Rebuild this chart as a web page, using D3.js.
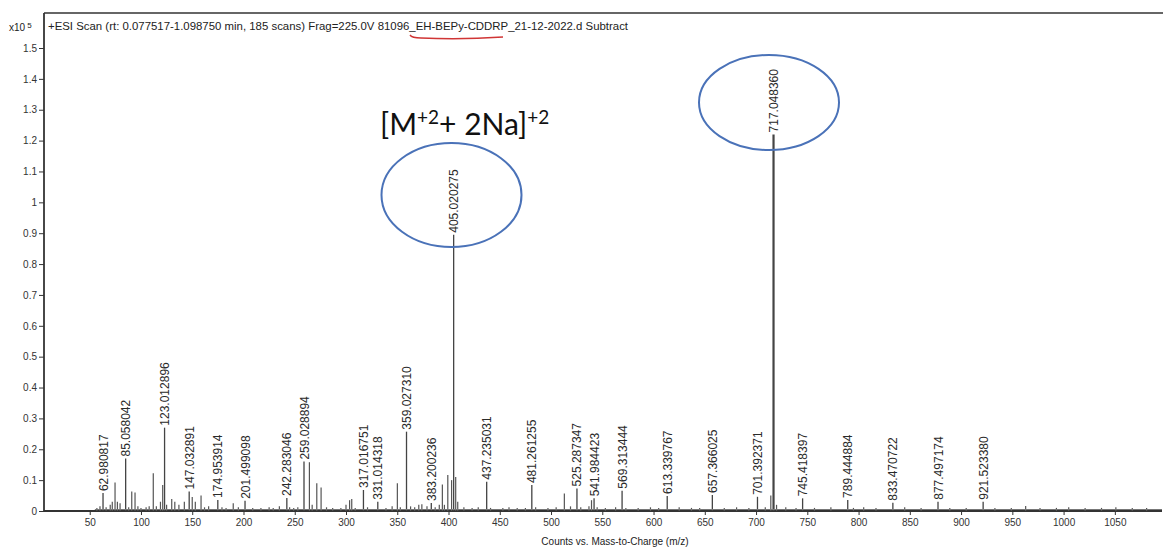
<!DOCTYPE html>
<html><head><meta charset="utf-8">
<script src="https://cdn.jsdelivr.net/npm/d3@7/dist/d3.min.js"></script>
<style>body{margin:0;background:#fff}svg{display:block}</style>
</head><body>
<svg id="c" width="1163" height="550"></svg>
<script>
// Labeled peaks (m/z) and intensities (x10^5 counts)
const labeledMz = [62.980817, 85.058042, 123.012896, 147.032891, 174.953914, 201.499098, 242.283046, 259.028894, 317.016751, 331.014318, 359.027310, 383.200236, 405.020275, 437.235031, 481.261255, 525.287347, 541.984423, 569.313444, 613.339767, 657.366025, 701.392371, 717.048360, 745.418397, 789.444884, 833.470722, 877.497174, 921.523380];
const labeledInt = [0.058, 0.17, 0.27, 0.063, 0.036, 0.033, 0.042, 0.16, 0.068, 0.03, 0.257, 0.026, 0.895, 0.095, 0.084, 0.073, 0.041, 0.066, 0.049, 0.052, 0.046, 1.22, 0.041, 0.036, 0.027, 0.03, 0.03];
// Unlabeled peaks
const otherMz = [57, 60, 66, 70, 72, 74.7, 77, 79.6, 88, 91, 94.2, 97, 100, 105, 108, 112, 115, 119, 121.2, 125, 130, 133, 137, 142.3, 150, 153, 158.6, 162, 166, 179, 183, 190, 195, 209, 217, 225, 229, 235, 245, 249, 253, 264.3, 267, 271.5, 275.7, 281, 287, 295, 300, 303.5, 305.6, 309, 321, 339, 345, 350.1, 353, 363, 367, 371, 374, 379, 387, 391, 394, 396, 399.3, 403, 407, 409, 415, 423, 429, 441, 453, 459, 467, 475, 485, 497, 505, 513, 519, 529, 537, 539.5, 545, 553, 563, 573, 585, 597, 605, 625, 637, 645, 669, 681, 693, 709, 714.4, 720, 729, 739, 757, 773, 795, 805, 817, 845, 861, 889, 905, 933, 949, 963, 977, 993, 1005, 1021, 1037, 1051, 1067, 1081];
const otherInt = [0.01, 0.015, 0.012, 0.02, 0.03, 0.092, 0.03, 0.025, 0.012, 0.063, 0.06, 0.015, 0.01, 0.012, 0.015, 0.122, 0.015, 0.03, 0.084, 0.02, 0.039, 0.03, 0.02, 0.03, 0.045, 0.03, 0.05, 0.012, 0.015, 0.012, 0.01, 0.025, 0.012, 0.01, 0.01, 0.012, 0.01, 0.015, 0.012, 0.01, 0.012, 0.158, 0.02, 0.09, 0.076, 0.012, 0.01, 0.01, 0.02, 0.035, 0.039, 0.01, 0.012, 0.01, 0.015, 0.09, 0.012, 0.015, 0.012, 0.02, 0.022, 0.015, 0.012, 0.02, 0.086, 0.02, 0.117, 0.1, 0.11, 0.03, 0.012, 0.01, 0.012, 0.01, 0.01, 0.012, 0.01, 0.01, 0.012, 0.01, 0.012, 0.057, 0.015, 0.012, 0.015, 0.035, 0.012, 0.01, 0.012, 0.01, 0.01, 0.012, 0.01, 0.012, 0.01, 0.01, 0.01, 0.012, 0.01, 0.012, 0.05, 0.02, 0.012, 0.01, 0.01, 0.012, 0.01, 0.012, 0.01, 0.012, 0.01, 0.01, 0.01, 0.01, 0.01, 0.016, 0.01, 0.01, 0.012, 0.01, 0.01, 0.012, 0.01, 0.01];
const xTicks = [50, 100, 150, 200, 250, 300, 350, 400, 450, 500, 550, 600, 650, 700, 750, 800, 850, 900, 950, 1000, 1050];
const yTicks = [0, 0.1, 0.2, 0.3, 0.4, 0.5, 0.6, 0.7, 0.8, 0.9, 1, 1.1, 1.2, 1.3, 1.4, 1.5];
const yTickLabels = ["0", "0.1", "0.2", "0.3", "0.4", "0.5", "0.6", "0.7", "0.8", "0.9", "1", "1.1", "1.2", "1.3", "1.4", "1.5"];
const headerText = "+ESI Scan (rt: 0.077517-1.098750 min, 185 scans) Frag=225.0V 81096_EH-BEPy-CDDRP_21-12-2022.d  Subtract";
const xTitle = "Counts vs. Mass-to-Charge (m/z)";

const svg = d3.select("#c");
const L = 44, R = 1162, T = 13, B = 511;
const x = d3.scaleLinear().domain([5.4, 1096]).range([L, R]);
const y = d3.scaleLinear().domain([0, 1.5]).range([B, 48]);
const font = "'Liberation Sans', Arial, sans-serif";
const ink = "#333";

// frame
svg.append("line").attr("x1", L).attr("x2", 1163).attr("y1", T).attr("y2", T).attr("stroke", ink).attr("stroke-width", 1.3);
svg.append("line").attr("x1", L).attr("x2", L).attr("y1", T).attr("y2", B).attr("stroke", ink).attr("stroke-width", 1.8);

// axes
const xAxis = d3.axisBottom(x).tickValues(xTicks).tickSize(4).tickPadding(4).tickFormat(d3.format("d"));
const gx = svg.append("g").attr("transform", `translate(0,${B})`).call(xAxis);
gx.select(".domain").attr("stroke", ink).attr("stroke-width", 2).attr("d", `M${L},0H${R}`);
gx.selectAll(".tick line").attr("stroke", ink);
gx.selectAll(".tick text").attr("fill", ink).style("font", `10px ${font}`);

const yAxis = d3.axisLeft(y).tickValues(yTicks).tickSize(5).tickPadding(2).tickFormat((d, i) => yTickLabels[i]);
const gy = svg.append("g").attr("transform", `translate(${L},0)`).call(yAxis);
gy.select(".domain").remove();
gy.selectAll(".tick line").attr("stroke", ink);
gy.selectAll(".tick text").attr("fill", ink).style("font", `10px ${font}`);

// unlabeled peaks
svg.append("g").selectAll("line").data(otherMz).join("line")
  .attr("x1", d => x(d)).attr("x2", d => x(d))
  .attr("y1", B).attr("y2", (d, i) => y(otherInt[i]))
  .attr("stroke", "#555").attr("stroke-width", 1.2);

// labeled peaks
const lp = svg.append("g").selectAll("g").data(labeledMz).join("g");
lp.append("line")
  .attr("x1", d => x(d)).attr("x2", d => x(d))
  .attr("y1", B).attr("y2", (d, i) => y(labeledInt[i]))
  .attr("stroke", "#444").attr("stroke-width", (d, i) => labeledInt[i] > 1 ? 2.2 : 1.3);
lp.append("text")
  .attr("transform", (d, i) => `translate(${x(d) + 4.5},${y(labeledInt[i]) - 2}) rotate(-90)`)
  .attr("fill", "#2a2a2a").style("font", `12px ${font}`)
  .text(d => d.toFixed(6));

// baseline thickening
svg.append("line").attr("x1", x(55)).attr("x2", R).attr("y1", B - 1.5).attr("y2", B - 1.5).attr("stroke", "#777").attr("stroke-width", 1.2);

// header
const hx = svg.append("text").attr("x", 9).attr("y", 31).attr("fill", "#222").style("font", `10px ${font}`);
hx.append("tspan").text("x10");
hx.append("tspan").attr("dx", 2).attr("dy", -3).style("font-size", "8px").text("5");
svg.append("text").attr("x", 48).attr("y", 30).attr("fill", "#222").style("font", `10.5px ${font}`)
  .attr("textLength", 580).attr("lengthAdjust", "spacingAndGlyphs").text(headerText);
svg.append("path").attr("d", "M410,35 Q412,38 421,38 Q460,40 503,37").attr("fill", "none").attr("stroke", "#d03535").attr("stroke-width", 1.4);

// x title
svg.append("text").attr("x", 615).attr("y", 545).attr("text-anchor", "middle").attr("fill", "#222").style("font", `10px ${font}`).text(xTitle);

// annotation
const ann = svg.append("text").attr("x", 380).attr("y", 135).attr("fill", "#111").style("font", "30px Lato, 'Open Sans', sans-serif");
ann.append("tspan").text("[M");
ann.append("tspan").attr("dy", -11).style("font-size", "19px").text("+2");
ann.append("tspan").attr("dy", 11).text("+ 2Na]");
ann.append("tspan").attr("dy", -11).style("font-size", "19px").text("+2");

svg.append("ellipse").attr("cx", 451.5).attr("cy", 195).attr("rx", 70).attr("ry", 52).attr("fill", "none").attr("stroke", "#4a72b8").attr("stroke-width", 2);
svg.append("ellipse").attr("cx", 769).attr("cy", 102.5).attr("rx", 70).attr("ry", 47.5).attr("fill", "none").attr("stroke", "#4a72b8").attr("stroke-width", 2);
</script>
</body></html>
